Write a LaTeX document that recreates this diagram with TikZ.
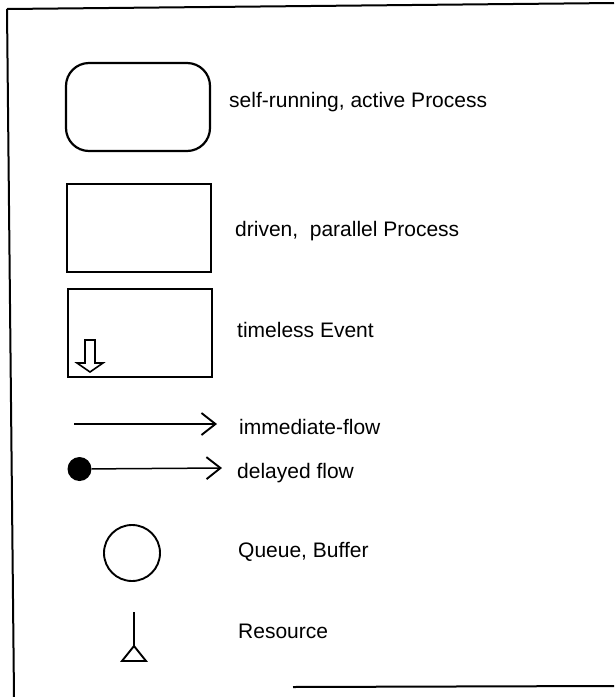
\documentclass[tikz,border=0pt]{standalone}
\usepackage{fontspec}
\setmainfont{Liberation Sans}
\usetikzlibrary{arrows.meta}
\begin{document}
\begin{tikzpicture}[x=1pt,y=-1pt,
  lbl/.style={anchor=base west, inner sep=0pt, font=\fontsize{21}{25}\selectfont},
  boxshape/.style={draw, line width=1.8pt, minimum width=144pt, minimum height=88pt, inner sep=0pt},
  frameline/.style={line width=2pt},
  flow/.style={line width=1.5pt, -{Straight Barb[length=14pt,width=22pt,line width=1.9pt]}},
  sym/.style={line width=1.9pt}
]
\useasboundingbox (0,0) rectangle (614,697);
% frame
\coordinate (ftl) at (7,9);
\coordinate (ftr) at (614,3);
\coordinate (fbl) at (14,697);
\coordinate (fbs) at (293,687);
\coordinate (fbr) at (614,686);
\draw[frameline] (ftl) -- (ftr);
\draw[frameline] (ftl) -- (fbl);
\draw[frameline] (fbs) -- (fbr);

% self-running, active process
\node[boxshape, rounded corners=23pt, line width=2.2pt] (active) at (138,107) {};
\node[lbl] (tactive) at (229,107) {self-running, active Process};

% driven, parallel process
\node[boxshape] (driven) at (139,228) {};
\node[lbl] (tdriven) at (235,236) {driven, \ parallel Process};

% timeless event
\node[boxshape] (event) at (140,333) {};
\draw[line width=1.6pt, line join=miter] (85,340) -- (95,340) -- (95,363) -- (103,363) -- (90,372) -- (77,363) -- (85,363) -- cycle;
\node[lbl] (tevent) at (237,337) {timeless Event};

% immediate flow
\coordinate (f1s) at (74,424);
\coordinate (f1e) at (217,424);
\draw[flow] (f1s) -- (f1e);
\node[lbl] (tf1) at (239,434) {immediate-flow};

% delayed flow
\node[circle, fill=black, minimum size=24pt, inner sep=0pt] (dot) at (79.5,469) {};
\coordinate (f2e) at (222,468);
\draw[flow] (dot) -- (f2e);
\node[lbl] (tf2) at (237,478) {delayed flow};

% queue
\node[circle, draw, sym, minimum size=56pt, inner sep=0pt] (queue) at (132,553) {};
\node[lbl] (tqueue) at (238,557) {Queue, Buffer};

% resource
\coordinate (rtop) at (134,612);
\coordinate (rapex) at (134,646);
\coordinate (rbl) at (122,661);
\coordinate (rbr) at (146,661);
\draw[sym] (rtop) -- (rapex);
\draw[sym, line join=miter] (rapex) -- (rbl) -- (rbr) -- cycle;
\node[lbl] (tres) at (238,638) {Resource};
\end{tikzpicture}
\end{document}
